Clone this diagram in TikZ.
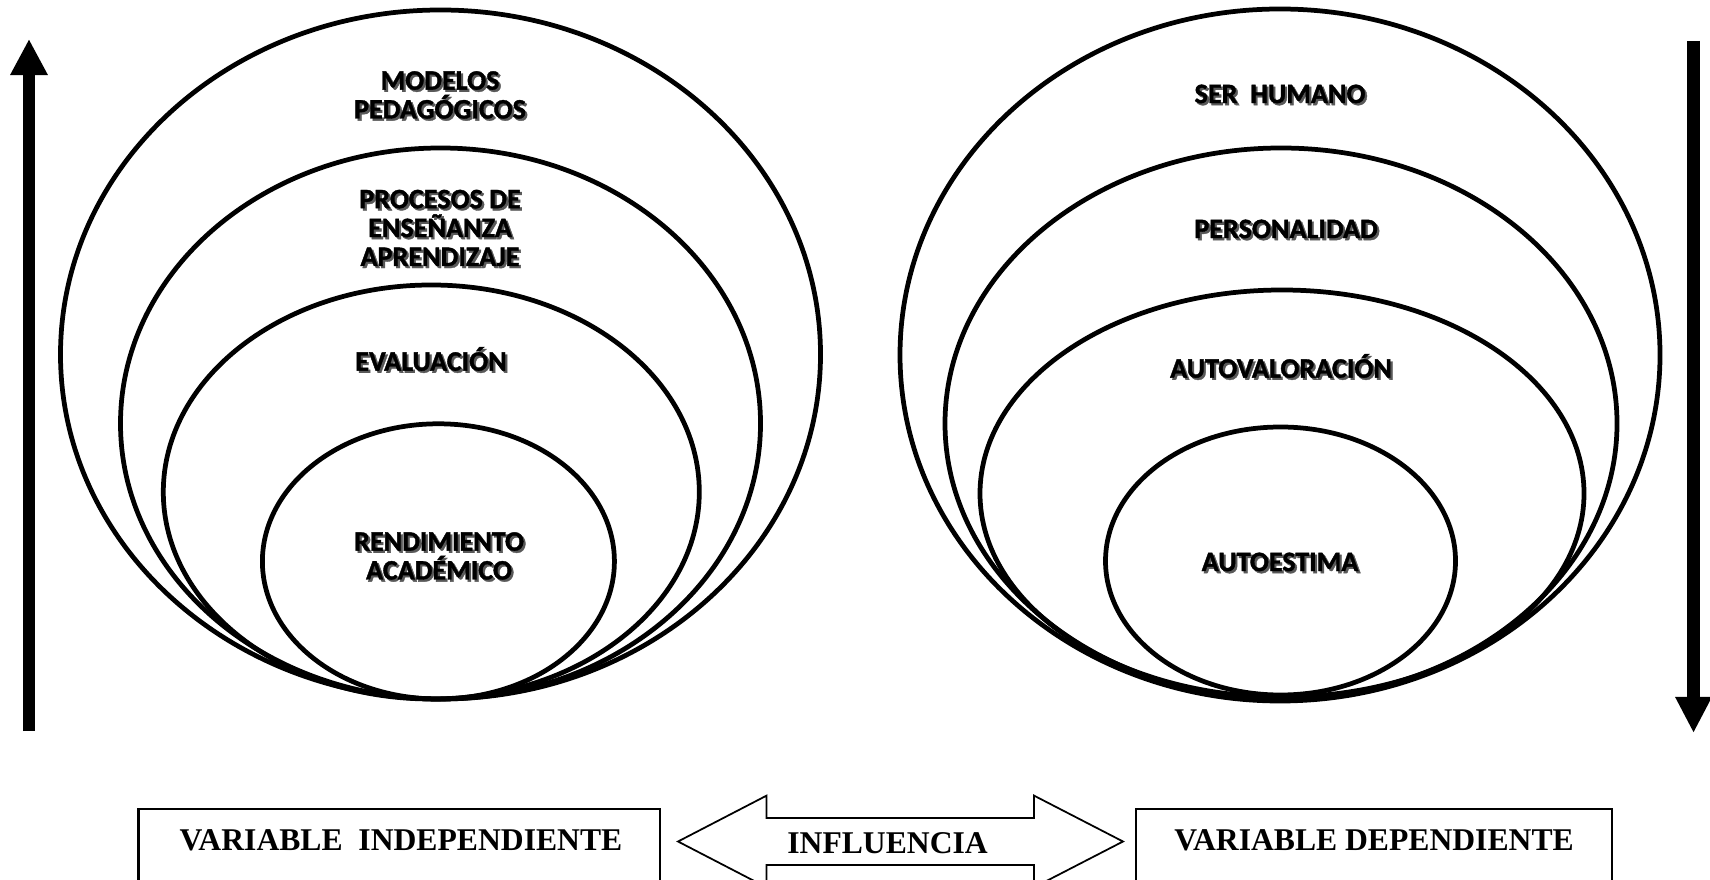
\documentclass[tikz,border=0pt]{standalone}
\usepackage{fontspec}
\setmainfont{Liberation Serif}
\newfontfamily\calibri[BoldFeatures={FakeBold=1.3}]{Carlito}
\usepackage{tikz}
\usetikzlibrary{arrows.meta,positioning}

\newcommand{\sombra}[1]{\makebox[0pt][l]{\hspace{0.6pt}\raisebox{-0.6pt}{\color{black!65}#1}}#1}

\begin{document}
\begin{tikzpicture}[x=0.01cm,y=-0.01cm]%
            \clip (0,0) rectangle (1710,880); %%
            \tikzstyle{circulo}=[line width=1.35pt] %%
            \tikzstyle{caja}=[line width=0.6pt] %%
            \begin{scope}[align=center,inner sep=0pt,font=\calibri\bfseries\fontsize{8}{8.2}\selectfont]%
            % variable independiente
            \draw[circulo] (440.5,354.5) ellipse [x radius=380, y radius=344.5]; %%
            \draw[circulo] (440.5,423.5) ellipse [x radius=320, y radius=275.5]; %%
            \draw[circulo] (431.3,492) ellipse [x radius=268, y radius=207]; %%
            \draw[circulo] (438.4,561.4) ellipse [x radius=176, y radius=137.6]; %%
            \node (modelos) at (440,96)  {\sombra{MODELOS}\\\sombra{PEDAGÓGICOS}}; %%
            \node (procesos) at (440,229)  {\sombra{PROCESOS DE}\\\sombra{ENSEÑANZA}\\\sombra{APRENDIZAJE}}; %%
            \node (evaluacion) at (431,360)  {\sombra{EVALUACIÓN}}; %%
            \node (rendimiento) at (439,557)  {\sombra{RENDIMIENTO}\\\sombra{ACADÉMICO}}; %%
            % variable dependiente
            \draw[circulo] (1280,355) ellipse [x radius=380, y radius=346]; %%
            \draw[circulo] (1281,423.5) ellipse [x radius=336, y radius=275.5]; %%
            \draw[circulo] (1282,493.5) ellipse [x radius=302, y radius=203.5]; %%
            \draw[circulo] (1280.5,561) ellipse [x radius=175, y radius=134]; %%
            \node (humano) at (1280,95)  {\sombra{SER\ \ HUMANO}}; %%
            \node (personalidad) at (1286,230)  {\sombra{PERSONALIDAD}}; %%
            \node (autovaloracion) at (1281,367)  {\sombra{AUTOVALORACIÓN}}; %%
            \node (autoestima) at (1280,563)  {\sombra{AUTOESTIMA}}; %%
            \end{scope}
            % flechas laterales
            \draw[line width=0.12cm,-{Triangle[width=0.35cm,length=0.36cm]}] (29,731)--(29,39); %%
            \draw[line width=0.13cm,-{Triangle[width=0.34cm,length=0.36cm]}] (1693.5,41)--(1693.5,733); %%
            % cajas
            \begin{scope}[inner sep=0pt,font=\bfseries\fontsize{9}{10}\selectfont]%
            \draw[caja] (138.5,809) rectangle (659.6,900); %%
            \draw[caja] (1135.6,809) rectangle (1612,900); %%
            \draw[line width=0.5pt] (678,841.5)--(766.6,795.6)--(766.6,818)--(1034,818)--(1034,795.6)--(1123,841.5)--(1034,887.4)--(1034,865)--(766.6,865)--(766.6,887.4)--cycle; %%
            \node (independiente) at (401,840) {VARIABLE\ \ INDEPENDIENTE}; %%
            \node (influencia) at (887.6,843) {INFLUENCIA}; %%
            \node (dependiente) at (1374,840) {VARIABLE DEPENDIENTE}; %%
            \end{scope}
        \end{tikzpicture}
\end{document}
